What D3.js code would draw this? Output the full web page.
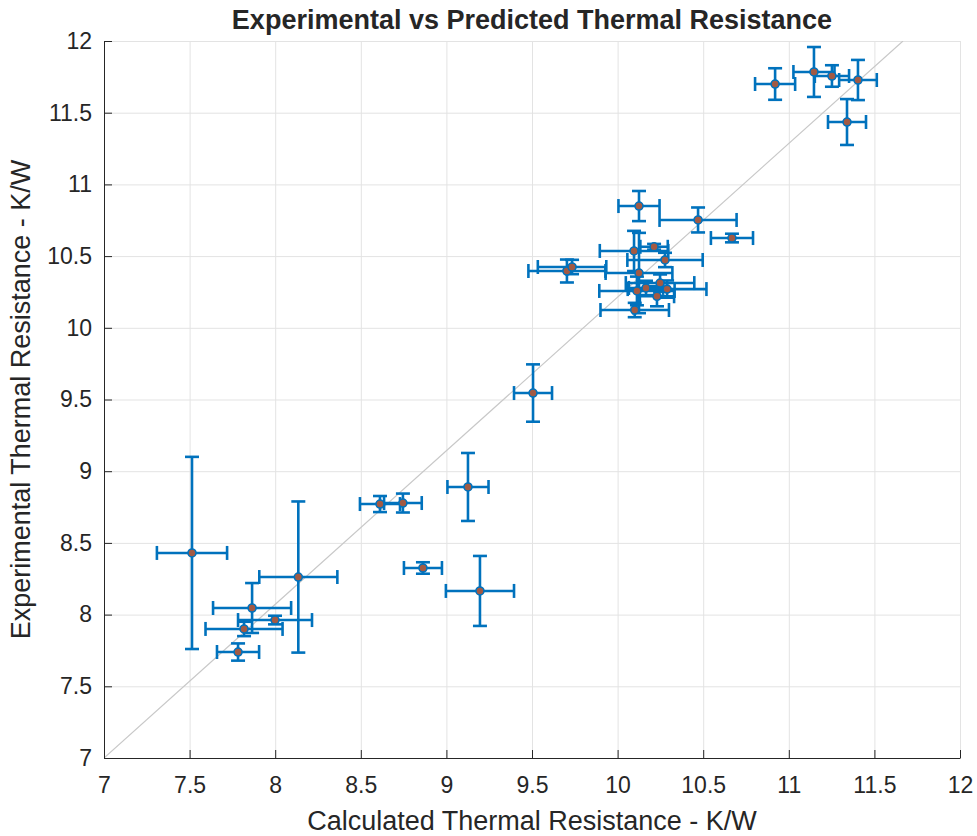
<!DOCTYPE html>
<html>
<head>
<meta charset="utf-8">
<script src="https://cdn.jsdelivr.net/npm/d3@7"></script>
<style>
  html, body { margin: 0; padding: 0; background: #ffffff; }
  svg { display: block; }
  text { font-family: "Liberation Sans", Arial, Helvetica, sans-serif; fill: #262626; }
</style>
</head>
<body>
<svg id="chart" width="977" height="836"></svg>
<script>
// Calculated (predicted) thermal resistance and its uncertainty, K/W
const calcR = [7.514, 8.135, 7.865, 7.818, 7.999, 7.783, 8.612, 8.746, 9.126, 8.863, 9.196,
  9.506, 10.125, 10.47, 10.668, 10.096, 10.213, 10.277, 10.125, 10.113, 10.166, 10.248,
  10.289, 10.23, 10.10, 9.704, 9.734, 11.147, 11.252, 11.404, 11.34, 10.92];
const calcErr = [0.205, 0.228, 0.228, 0.225, 0.216, 0.123, 0.117, 0.11, 0.12, 0.111, 0.199,
  0.111, 0.12, 0.225, 0.123, 0.2, 0.08, 0.22, 0.195, 0.22, 0.1, 0.2,
  0.23, 0.1, 0.2, 0.225, 0.2, 0.12, 0.1, 0.11, 0.111, 0.117];
// Measured (experimental) thermal resistance and its uncertainty, K/W
const expR = [8.43, 8.262, 8.046, 7.90, 7.962, 7.739, 8.771, 8.778, 8.89, 8.325, 8.165,
  9.545, 10.849, 10.752, 10.626, 10.536, 10.565, 10.473, 10.382, 10.257, 10.278, 10.312,
  10.27, 10.22, 10.124, 10.396, 10.424, 11.784, 11.756, 11.728, 11.435, 11.70];
const expErr = [0.67, 0.527, 0.174, 0.05, 0.03, 0.06, 0.056, 0.066, 0.237, 0.04, 0.244,
  0.2, 0.105, 0.087, 0.03, 0.14, 0.02, 0.05, 0.28, 0.1, 0.05, 0.06,
  0.06, 0.07, 0.05, 0.08, 0.05, 0.174, 0.075, 0.14, 0.16, 0.11];

// Reference trend line endpoints
const refX = [7, 11.667];
const refY = [7, 12];

const tickValues = [7, 7.5, 8, 8.5, 9, 9.5, 10, 10.5, 11, 11.5, 12];
const tickLabels = ["7", "7.5", "8", "8.5", "9", "9.5", "10", "10.5", "11", "11.5", "12"];

const titleText = "Experimental vs Predicted Thermal Resistance";
const xLabel = "Calculated Thermal Resistance - K/W";
const yLabel = "Experimental Thermal Resistance - K/W";

const points = calcR.map((c, i) => ({ x: c, xe: calcErr[i], y: expR[i], ye: expErr[i] }));

const box = { left: 104, right: 960, top: 41, bottom: 758 };
const svg = d3.select("#chart");

const x = d3.scaleLinear().domain([7, 12]).range([box.left, box.right]);
const y = d3.scaleLinear().domain([7, 12]).range([box.bottom, box.top]);

const blue = "#0072BD";
const gridColor = "#e3e3e3";
const axisColor = "#262626";

// Grid lines
const grid = svg.append("g");
grid.selectAll(".gx").data(tickValues).join("line")
  .attr("x1", d => x(d) + 0.5).attr("x2", d => x(d) + 0.5)
  .attr("y1", box.top).attr("y2", box.bottom)
  .attr("stroke", gridColor).attr("stroke-width", 1);
grid.selectAll(".gy").data(tickValues).join("line")
  .attr("x1", box.left).attr("x2", box.right)
  .attr("y1", d => y(d) + 0.5).attr("y2", d => y(d) + 0.5)
  .attr("stroke", gridColor).attr("stroke-width", 1);

// Clip region for plotted content
svg.append("clipPath").attr("id", "plotClip")
  .append("rect").attr("x", box.left).attr("y", box.top)
  .attr("width", box.right - box.left).attr("height", box.bottom - box.top);

const plot = svg.append("g").attr("clip-path", "url(#plotClip)");

// Reference line
plot.append("line")
  .attr("x1", x(refX[0])).attr("y1", y(refY[0]))
  .attr("x2", x(refX[1])).attr("y2", y(refY[1]))
  .attr("stroke", "#c8c8c8").attr("stroke-width", 1.2);

// Error bars
const cap = 7;
const bars = plot.append("g")
  .attr("stroke", blue).attr("stroke-width", 2.6).attr("fill", "none");
points.forEach(p => {
  const cx = x(p.x), cy = y(p.y);
  const x0 = x(p.x - p.xe), x1 = x(p.x + p.xe);
  const y0 = y(p.y - p.ye), y1 = y(p.y + p.ye);
  bars.append("line").attr("x1", cx).attr("x2", cx).attr("y1", y0).attr("y2", y1);
  bars.append("line").attr("x1", cx - cap).attr("x2", cx + cap).attr("y1", y0).attr("y2", y0);
  bars.append("line").attr("x1", cx - cap).attr("x2", cx + cap).attr("y1", y1).attr("y2", y1);
  bars.append("line").attr("x1", x0).attr("x2", x1).attr("y1", cy).attr("y2", cy);
  bars.append("line").attr("x1", x0).attr("x2", x0).attr("y1", cy - cap).attr("y2", cy + cap);
  bars.append("line").attr("x1", x1).attr("x2", x1).attr("y1", cy - cap).attr("y2", cy + cap);
});

// Markers
plot.append("g").selectAll("circle").data(points).join("circle")
  .attr("cx", d => x(d.x)).attr("cy", d => y(d.y)).attr("r", 4)
  .attr("fill", "#a25a44").attr("stroke", blue).attr("stroke-width", 1.6);

// Axes (ticks point inward)
const xAxis = d3.axisBottom(x).tickValues(tickValues)
  .tickFormat((d, i) => tickLabels[i]).tickSizeInner(-8).tickSizeOuter(0).tickPadding(19);
const yAxis = d3.axisLeft(y).tickValues(tickValues)
  .tickFormat((d, i) => tickLabels[i]).tickSizeInner(-8).tickSizeOuter(0).tickPadding(12);

const gx = svg.append("g").attr("transform", `translate(0,${box.bottom})`).call(xAxis);
const gy = svg.append("g").attr("transform", `translate(${box.left},0)`).call(yAxis);
[gx, gy].forEach(g => {
  g.select(".domain").attr("stroke", axisColor).attr("stroke-width", 1);
  g.selectAll(".tick line").attr("stroke", axisColor);
  g.selectAll(".tick text").attr("fill", axisColor)
    .style("font-family", '"Liberation Sans", Arial, sans-serif').style("font-size", "23px");
});

// Title and axis labels
const midX = (box.left + box.right) / 2;
const midY = (box.top + box.bottom) / 2;

svg.append("text").attr("x", midX).attr("y", 29)
  .attr("text-anchor", "middle").style("font-size", "27px").style("font-weight", "bold")
  .attr("fill", "#000").text(titleText);

svg.append("text").attr("x", midX).attr("y", 830)
  .attr("text-anchor", "middle").style("font-size", "27px").text(xLabel);

svg.append("text")
  .attr("transform", `translate(30,${midY}) rotate(-90)`)
  .attr("text-anchor", "middle").style("font-size", "27px").text(yLabel);
</script>
</body>
</html>
